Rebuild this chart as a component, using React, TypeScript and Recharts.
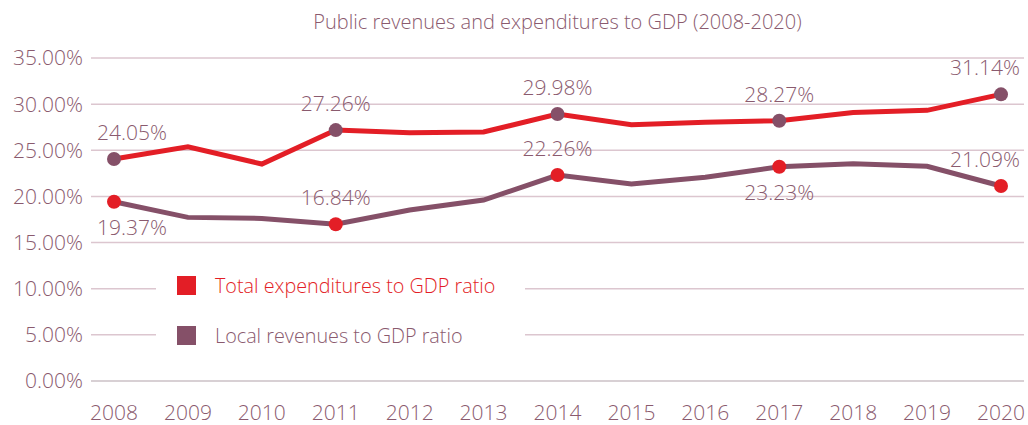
import React from "react";
import { LineChart, Line, XAxis, YAxis, CartesianGrid, LabelList } from "recharts";

const years = ["2008", "2009", "2010", "2011", "2012", "2013", "2014", "2015", "2016", "2017", "2018", "2019", "2020"];
const totalExpenditures = [24.05, 25.38, 23.51, 27.19, 26.9, 26.98, 28.93, 27.77, 28.03, 28.2, 29.1, 29.33, 31.06];
const localRevenues = [19.43, 17.73, 17.62, 16.98, 18.53, 19.61, 22.32, 21.34, 22.07, 23.22, 23.54, 23.26, 21.13];
const markedYears = ["2008", "2011", "2014", "2017", "2020"];
const expenditureLabels = ["24.05%", "27.26%", "29.98%", "28.27%", "31.14%"];
const revenueLabels = ["19.37%", "16.84%", "22.26%", "23.23%", "21.09%"];
const yTicks = [0, 5, 10, 15, 20, 25, 30, 35];
const title = "Public revenues and expenditures to GDP (2008-2020)";
const legendItems = ["Total expenditures to GDP ratio", "Local revenues to GDP ratio"];

const RED = "#E31E26";
const PURPLE = "#855068";
const TEXT = "#8A5A6E";
const GRID = "#DCC6CF";
const FONT = "'Open Sans', sans-serif";
const W = 350;

const data = years.map((y, i) => ({
  year: y,
  total: totalExpenditures[i],
  local: localRevenues[i],
  totalLabel: markedYears.includes(y) ? expenditureLabels[markedYears.indexOf(y)] : "",
  localLabel: markedYears.includes(y) ? revenueLabels[markedYears.indexOf(y)] : "",
}));

const revenueBelow = ["2008", "2017"];

const makeDot = (color: string) => (props: any) => {
  const { cx, cy, index, payload } = props;
  if (!markedYears.includes(payload.year)) return <g key={`d${index}`} />;
  return <circle key={`d${index}`} cx={cx} cy={cy} r={7} fill={color} stroke="none" />;
};

const makeLabel = (key: "totalLabel" | "localLabel") => (props: any) => {
  const { x, y, value, index } = props;
  if (!value) return null;
  const year = years[index];
  const below = key === "localLabel" && revenueBelow.includes(year);
  let anchor: "start" | "middle" | "end" = "middle";
  let tx = x;
  if (index === 0) {
    anchor = "start";
    tx = x - 17;
  } else if (index === years.length - 1) {
    anchor = "end";
    tx = x + 19;
  }
  const ty = below ? y + 33 : y - 19;
  return (
    <text x={tx} y={ty} textAnchor={anchor} fill={TEXT} fontSize={21} fontWeight={W} fontFamily={FONT}>
      {value}
    </text>
  );
};

export default function App() {
  return (
    <div style={{ position: "absolute", left: 0, top: 0, width: 1028, height: 425, background: "#fff", fontFamily: FONT }}>
      <div
        style={{
          position: "absolute",
          left: 91,
          width: 933,
          top: 10,
          textAlign: "center",
          color: TEXT,
          fontSize: 20,
          fontWeight: W,
          lineHeight: "24px",
        }}
      >
        {title}
      </div>
      <LineChart width={1028} height={425} data={data} margin={{ top: 58, right: 4, bottom: 0, left: 0 }}>
        <CartesianGrid horizontal vertical={false} stroke={GRID} strokeWidth={1.5} />
        <XAxis
          dataKey="year"
          padding={{ left: 23, right: 23 }}
          height={44}
          axisLine={{ stroke: "#D8D0D4", strokeWidth: 2 }}
          tickLine={false}
          tickMargin={18}
          tick={{ fill: TEXT, fontSize: 21, fontWeight: W, fontFamily: FONT }}
        />
        <YAxis
          width={91}
          domain={[0, 35]}
          ticks={yTicks}
          axisLine={false}
          tickLine={false}
          tickFormatter={(v: number) => `${v.toFixed(2)}%`}
          tick={{ fill: TEXT, fontSize: 21, fontWeight: W, fontFamily: FONT }}
        />
        <Line
          type="linear"
          dataKey="total"
          stroke={RED}
          strokeWidth={5}
          dot={makeDot(PURPLE)}
          activeDot={false}
          isAnimationActive={false}
        >
          <LabelList dataKey="totalLabel" content={makeLabel("totalLabel")} />
        </Line>
        <Line
          type="linear"
          dataKey="local"
          stroke={PURPLE}
          strokeWidth={5}
          dot={makeDot(RED)}
          activeDot={false}
          isAnimationActive={false}
        >
          <LabelList dataKey="localLabel" content={makeLabel("localLabel")} />
        </Line>
      </LineChart>
      <div
        style={{
          position: "absolute",
          left: 156,
          top: 262,
          width: 369,
          height: 98,
          background: "#fff",
        }}
      >
        {legendItems.map((t, i) => (
          <div
            key={t}
            style={{ position: "absolute", left: 21, top: 14 + i * 50, height: 19, display: "flex", alignItems: "center" }}
          >
            <div style={{ width: 19, height: 19, background: i === 0 ? RED : PURPLE }} />
            <div
              style={{
                marginLeft: 19,
                color: i === 0 ? RED : TEXT,
                fontSize: 19.8,
                fontWeight: W,
                whiteSpace: "nowrap",
                lineHeight: "19px",
              }}
            >
              {t}
            </div>
          </div>
        ))}
      </div>
    </div>
  );
}
